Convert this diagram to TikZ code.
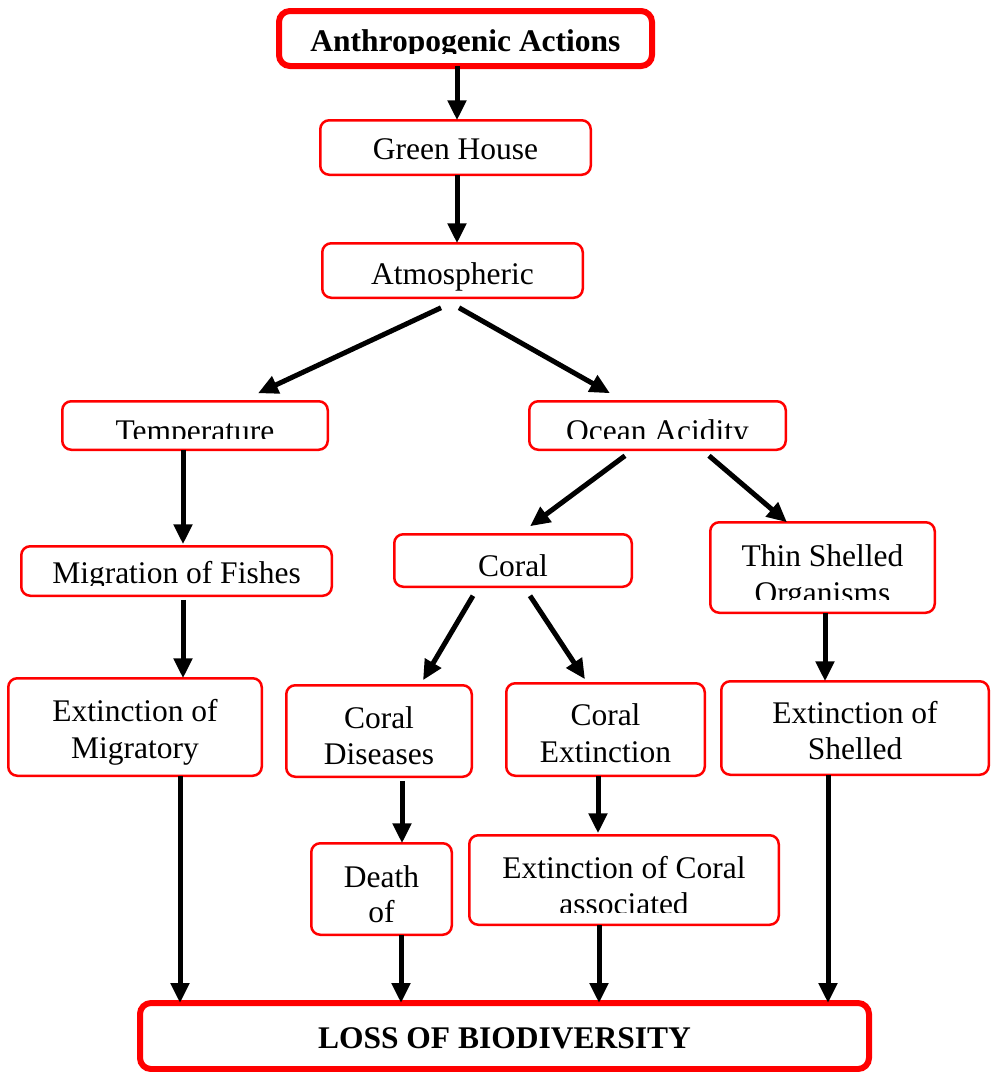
\documentclass[tikz,border=0pt]{standalone}
\usepackage{fontspec}
\setmainfont{Liberation Serif}
\usetikzlibrary{arrows.meta,calc}
\begin{document}
\begin{tikzpicture}[x=1pt,y=-1pt,
  thinbox/.style={draw=red,line width=2.5pt,rounded corners=9pt,fill=white,inner sep=0pt,outer sep=0pt},
  thickbox/.style={draw=red,line width=6pt,rounded corners=11pt,fill=white,inner sep=0pt,outer sep=0pt},
  txt/.style={anchor=base,inner sep=0pt,font=\fontsize{31.5pt}{36pt}\selectfont},
  btxt/.style={txt,font=\fontsize{31.5pt}{36pt}\selectfont\bfseries},
  arr/.style={line width=5pt,-{Triangle[width=18pt,length=20pt]}}]
\useasboundingbox (0,0) rectangle (997,1072);
\fill[white] (0,0) rectangle (997,1072);

% boxes
\node[thickbox,minimum width=373pt,minimum height=55pt] (b1) at (465.5,38.5) {};
\node[thinbox,minimum width=270.5pt,minimum height=54.5pt] (b2) at (455.5,147.5) {};
\node[thinbox,minimum width=260.5pt,minimum height=54.5pt] (b3) at (452.5,270.5) {};
\node[thinbox,minimum width=265.5pt,minimum height=48.5pt] (b4) at (195,425.5) {};
\node[thinbox,minimum width=256.5pt,minimum height=48.5pt] (b5) at (657.5,425.5) {};
\node[thinbox,minimum width=310.5pt,minimum height=49.5pt] (b6) at (176.5,571) {};
\node[thinbox,minimum width=237.5pt,minimum height=52.5pt] (b7) at (513,560.5) {};
\node[thinbox,minimum width=224.5pt,minimum height=90.5pt] (b8) at (822.5,567.5) {};
\node[thinbox,minimum width=253.5pt,minimum height=97.5pt] (b9) at (135,727) {};
\node[thinbox,minimum width=185.5pt,minimum height=91.5pt] (b10) at (379,731) {};
\node[thinbox,minimum width=198.5pt,minimum height=92.5pt] (b11) at (605.5,729.5) {};
\node[thinbox,minimum width=267.5pt,minimum height=93.5pt] (b12) at (855,728) {};
\node[thinbox,minimum width=140.5pt,minimum height=91.5pt] (b13) at (381.5,889) {};
\node[thinbox,minimum width=309.5pt,minimum height=89.5pt] (b14) at (624,880) {};
\node[thickbox,minimum width=729pt,minimum height=66pt] (b15) at (504.5,1036) {};

% texts
\begin{scope}
\clip (280,10) rectangle (650,53);
\node[btxt] (t1) at (465.5,51.5) {Anthropogenic Actions};
\end{scope}
\node[txt] (t2) at (455.5,159) {Green House};
\node[txt] (t3) at (452.5,284) {Atmospheric};
\begin{scope}
\clip (65,402) rectangle (325,438);
\node[txt] (t4) at (195,441) {Temperature};
\end{scope}
\begin{scope}
\clip (532,402) rectangle (783,438);
\node[txt] (t5) at (657.5,441) {Ocean Acidity};
\end{scope}
\begin{scope}
\clip (24,547) rectangle (329,585);
\node[txt] (t6) at (176.5,583) {Migration of Fishes};
\end{scope}
\node[txt] (t7) at (513,576) {Coral};
\node[txt] (t8a) at (822.5,566) {Thin Shelled};
\begin{scope}
\clip (713,570) rectangle (932,599);
\node[txt] (t8b) at (822.5,603) {Organisms};
\end{scope}
\node[txt] (t9a) at (135,721) {Extinction of};
\node[txt] (t9b) at (135,758) {Migratory};
\node[txt] (t10a) at (379,728) {Coral};
\node[txt] (t10b) at (379,764) {Diseases};
\node[txt] (t11a) at (605.5,725) {Coral};
\node[txt] (t11b) at (605.5,762) {Extinction};
\node[txt] (t12a) at (855,723) {Extinction of};
\node[txt] (t12b) at (855,759) {Shelled};
\node[txt] (t13a) at (381.5,887) {Death};
\node[txt] (t13b) at (381.5,922) {of};
\node[txt] (t14a) at (624,878) {Extinction of Coral};
\begin{scope}
\clip (472,882) rectangle (776,912);
\node[txt] (t14b) at (624,914) {associated};
\end{scope}
\node[btxt] (t15) at (504.5,1048) {LOSS OF BIODIVERSITY};

% arrows
\draw[arr] ($(b1.south)+(-8.5,0)$) -- ($(b2.north)+(1.5,0)$);
\draw[arr] ($(b2.south)+(1.5,0)$) -- ($(b3.north)+(4.5,0)$);
\draw[arr] ($(b3.south)+(-11.5,10)$) -- ($(b4.north)+(63,-8)$);
\draw[arr] ($(b3.south)+(6.5,10)$) -- ($(b5.north)+(-47.5,-8)$);
\draw[arr] ($(b4.south)+(-12,0)$) -- ($(b6.north)+(6.5,-2)$);
\draw[arr] ($(b5.south)+(-32.5,6)$) -- ($(b7.north)+(17,-8)$);
\draw[arr] ($(b5.south)+(51.5,6)$) -- ($(b8.north)+(-35.5,0)$);
\draw[arr] ($(b6.south)+(6.5,4)$) -- ($(b9.north)+(48,0)$);
\draw[arr] ($(b7.south)+(-40,9)$) -- ($(b10.north)+(44,-5)$);
\draw[arr] ($(b7.south)+(17,9)$) -- ($(b11.north)+(-20.5,-4)$);
\draw[arr] ($(b8.south)+(2.5,0)$) -- ($(b12.north)+(-30,0)$);
\draw[arr] ($(b10.south)+(23,4)$) -- ($(b13.north)+(20.5,0)$);
\draw[arr] ($(b11.south)+(-7.5,0)$) -- ($(b14.north)+(-26,-2)$);
\draw[arr] ($(b9.south)+(45,0)$) -- ($(b15.north)+(-324.5,0)$);
\draw[arr] ($(b13.south)+(19.5,0)$) -- ($(b15.north)+(-103.5,0)$);
\draw[arr] ($(b14.south)+(-25,0)$) -- ($(b15.north)+(94.5,0)$);
\draw[arr] ($(b12.south)+(-27,0)$) -- ($(b15.north)+(323.5,0)$);
\end{tikzpicture}
\end{document}
